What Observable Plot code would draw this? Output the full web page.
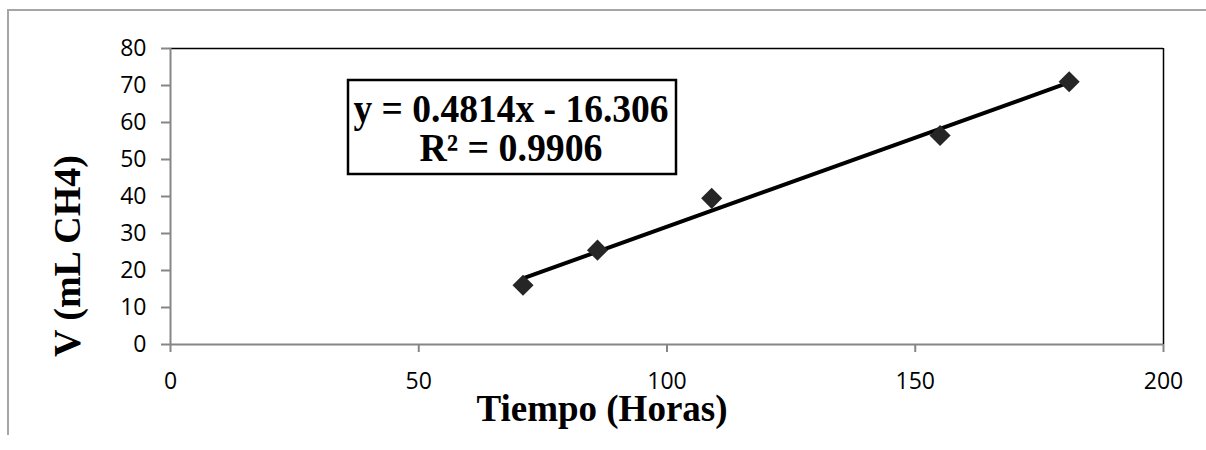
<!DOCTYPE html>
<html>
<head>
<meta charset="utf-8">
<script src="https://cdn.jsdelivr.net/npm/d3@7"></script>
<script src="https://cdn.jsdelivr.net/npm/@observablehq/plot@0.6"></script>
<style>
  html, body { margin: 0; padding: 0; background: #fff; }
  #wrap { position: relative; width: 1206px; height: 450px; overflow: hidden; }
  #frame { position: absolute; left: 7px; top: 9px; width: 1300px; height: 426px;
           border-left: 2px solid #a6a6a6; border-top: 2px solid #a6a6a6; box-sizing: border-box; }
  #chart { position: absolute; left: 0; top: 0; }
</style>
</head>
<body>
<div id="wrap">
  <div id="frame"></div>
  <div id="chart"></div>
</div>
<script>
const tiempo = [71, 86, 109, 155, 181];
const volumen = [16, 25.5, 39.5, 56.5, 71];
const xTicks = [0, 50, 100, 150, 200];
const yTicks = [0, 10, 20, 30, 40, 50, 60, 70, 80];
const slope = 0.4814;
const intercept = -16.306;
const r2 = 0.9906;
const xLabel = "Tiempo (Horas)";
const yLabel = "V (mL CH4)";

const points = tiempo.map((t, i) => ({x: t, y: volumen[i]}));
const xMin = d3.min(tiempo), xMax = d3.max(tiempo);
const trend = [xMin, xMax].map(x => ({x, y: slope * x + intercept}));

const chart = Plot.plot({
  width: 1206,
  height: 450,
  marginLeft: 170,
  marginRight: 43,
  marginTop: 48,
  marginBottom: 106,
  style: {background: "transparent", fontFamily: "'Open Sans', sans-serif", fontSize: "23px", color: "#000"},
  x: {domain: [0, 200], ticks: xTicks},
  y: {domain: [0, 80], ticks: yTicks},
  marks: [
    Plot.ruleX([200], {stroke: "#000", strokeWidth: 1.5}),
    Plot.ruleY([80], {stroke: "#000", strokeWidth: 1.5}),
    Plot.ruleX([0], {stroke: "#868686", strokeWidth: 2}),
    Plot.ruleY([0], {stroke: "#868686", strokeWidth: 2}),
    Plot.axisX({ticks: xTicks, tickSize: 8, tickPadding: 20, stroke: "#868686", strokeWidth: 2,
                fill: "#000", label: null, fontSize: 23}),
    Plot.axisY({ticks: yTicks, tickSize: 9, tickPadding: 15, stroke: "#868686", strokeWidth: 2,
                fill: "#000", label: null, fontSize: 23}),
    Plot.line(trend, {x: "x", y: "y", stroke: "#000", strokeWidth: 4}),
    Plot.dot(points, {x: "x", y: "y", symbol: "diamond2", r: 9.5, fill: "#262626", stroke: "none"})
  ]
});
document.getElementById("chart").appendChild(chart);

const svg = d3.select(chart);
const serif = "'Liberation Serif', 'Times New Roman', serif";
svg.append("text")
  .attr("x", 602).attr("y", 421)
  .attr("text-anchor", "middle")
  .attr("font-family", serif)
  .attr("font-weight", "bold").attr("font-size", 37)
  .attr("fill", "#000")
  .text(xLabel);
svg.append("text")
  .attr("transform", "translate(80,256) rotate(-90)")
  .attr("text-anchor", "middle")
  .attr("font-family", serif)
  .attr("font-weight", "bold").attr("font-size", 38)
  .attr("fill", "#000")
  .text(yLabel);

// equation box
const fmt = v => (v < 0 ? " - " + Math.abs(v) : " + " + v);
const g = svg.append("g");
g.append("rect")
  .attr("x", 348).attr("y", 80).attr("width", 328).attr("height", 94)
  .attr("fill", "#fff").attr("stroke", "#000").attr("stroke-width", 2.5);
g.append("text")
  .attr("x", 511).attr("y", 122)
  .attr("text-anchor", "middle")
  .attr("font-family", serif).attr("font-weight", "bold").attr("font-size", 40)
  .attr("textLength", 315).attr("lengthAdjust", "spacingAndGlyphs")
  .attr("fill", "#000")
  .text("y = " + slope + "x" + fmt(intercept));
g.append("text")
  .attr("x", 511).attr("y", 161)
  .attr("text-anchor", "middle")
  .attr("font-family", serif).attr("font-weight", "bold").attr("font-size", 40)
  .attr("textLength", 183).attr("lengthAdjust", "spacingAndGlyphs")
  .attr("fill", "#000")
  .text("R² = " + r2);
</script>
</body>
</html>
